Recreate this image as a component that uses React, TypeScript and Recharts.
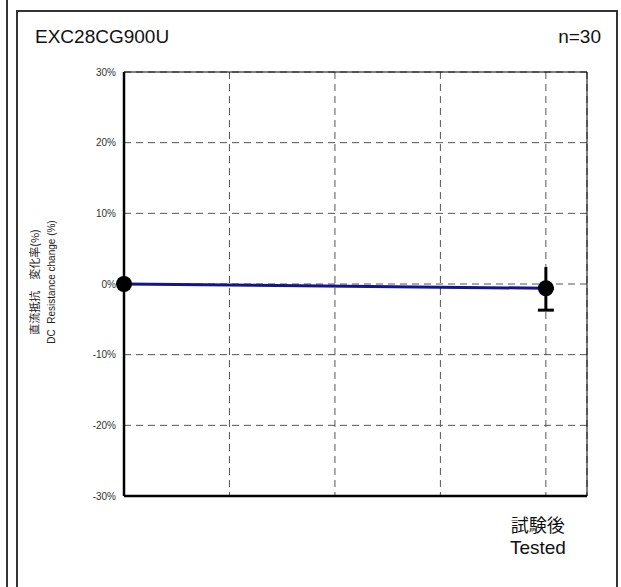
import React from "react";
import {
	LineChart,
	Line,
	XAxis,
	YAxis,
	CartesianGrid,
	ReferenceLine,
	ErrorBar,
} from "recharts";

// measurement stages on the x axis (0 = initial, 4 = after test)
const stagePos = [0, 4];
// mean DC resistance change (%)
const meanChange = [0, -0.6];
// spread below / above the mean (%)
const spreadLow = [null, 3.1];
const spreadHigh = [null, 3.0];

const yTicks = [-30, -20, -10, 0, 10, 20, 30];
const xGridTicks = [1, 2, 3, 4];
const xMax = 4.39;

const partName = "EXC28CG900U";
const sampleCount = "n=30";
const stageLabelJa = "試験後";
const stageLabelEn = "Tested";

const rows = stagePos.map((x, i) => ({
	x,
	change: meanChange[i],
	low: spreadLow[i] == null ? null : [spreadLow[i], 0],
	high: spreadHigh[i] == null ? null : [0, spreadHigh[i]],
}));

const latin = '"Liberation Sans", Arial, sans-serif';
const cjk = '"Noto Sans CJK JP", "Liberation Sans", sans-serif';

const StageTick = (props: any) => {
	const { x, y, payload } = props;
	if (payload.value !== 4) return null;
	return (
		<g>
			<text x={x - 8} y={y + 34} textAnchor="middle" fontFamily={cjk} fontSize={18} fill="#111">
				{stageLabelJa}
			</text>
			<text x={x - 8} y={y + 56} textAnchor="middle" fontFamily={latin} fontSize={19} fill="#111">
				{stageLabelEn}
			</text>
		</g>
	);
};

const App: React.FC = () => {
	return (
		<div style={{ position: "absolute", left: 0, top: 0, width: 621, height: 587, background: "#fff", overflow: "hidden" }}>
			{/* frame lines */}
			<div style={{ position: "absolute", left: 6, top: 0, width: 2, height: 587, background: "#333" }} />
			<div
				style={{
					position: "absolute",
					left: 16,
					top: 10,
					width: 598,
					height: 600,
					borderTop: "2px solid #333",
					borderLeft: "2px solid #333",
					borderRight: "2px solid #333",
				}}
			/>
			<div style={{ position: "absolute", left: 35, top: 26, fontFamily: latin, fontSize: 19, color: "#111" }}>
				{partName}
			</div>
			<div style={{ position: "absolute", right: 20, top: 26, fontFamily: latin, fontSize: 19, color: "#111" }}>
				{sampleCount}
			</div>
			{/* rotated y-axis title */}
			<div
				style={{
					position: "absolute",
					left: 43,
					top: 282,
					transform: "translate(-50%, -50%) rotate(-90deg)",
					whiteSpace: "nowrap",
					textAlign: "center",
					color: "#222",
					lineHeight: "17px",
				}}
			>
				<div style={{ fontFamily: cjk, fontSize: 11 }}>直流抵抗　変化率(%)</div>
				<div style={{ fontFamily: latin, fontSize: 10 }}>DC&nbsp;&nbsp;Resistance change (%)</div>
			</div>
			<div style={{ position: "absolute", left: 0, top: 0 }}>
				<LineChart
					width={621}
					height={587}
					data={rows}
					margin={{ top: 72, right: 34, bottom: 61, left: 64 }}
				>
					<CartesianGrid stroke="#555" strokeDasharray="7 5" horizontal={true} vertical={true} />
					<XAxis
						dataKey="x"
						type="number"
						domain={[0, xMax]}
						ticks={xGridTicks}
						height={30}
						tickLine={false}
						tickSize={0}
						tick={<StageTick />}
						axisLine={{ stroke: "#000", strokeWidth: 2.5 }}
						interval={0}
					/>
					<YAxis
						type="number"
						domain={[-30, 30]}
						ticks={yTicks}
						width={60}
						tickLine={false}
						tickSize={0}
						tickMargin={8}
						tickFormatter={(v: number) => `${v}%`}
						tick={{ fontSize: 10, fill: "#333", fontFamily: latin }}
						axisLine={{ stroke: "#000", strokeWidth: 2.5 }}
						interval={0}
					/>
					<ReferenceLine y={30} stroke="#000" strokeWidth={1} />
					<ReferenceLine x={xMax} stroke="#000" strokeWidth={1} />
					<Line
						dataKey="change"
						stroke="#14148c"
						strokeWidth={3}
						dot={{ r: 8, fill: "#000", stroke: "#000", strokeWidth: 0 }}
						isAnimationActive={false}
					>
						<ErrorBar dataKey="low" direction="y" width={8} stroke="#000" strokeWidth={3} />
						<ErrorBar dataKey="high" direction="y" width={0} stroke="#000" strokeWidth={3} />
					</Line>
				</LineChart>
			</div>
		</div>
	);
};

export default App;
